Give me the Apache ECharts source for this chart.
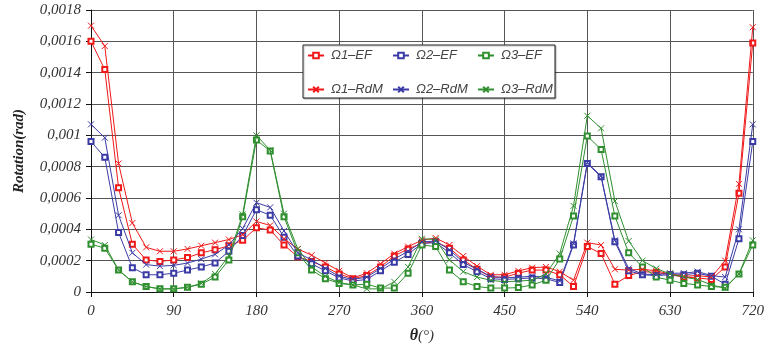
<!DOCTYPE html>
<html>
<head>
<meta charset="utf-8">
<script src="https://cdn.jsdelivr.net/npm/echarts@6/dist/echarts.min.js"></script>
<style>
  html, body { margin: 0; padding: 0; background: #fff; }
  #chart { width: 767px; height: 358px; }
</style>
</head>
<body>
<div id="chart"></div>
<script>
// angle theta in degrees
const angles = [0, 15, 30, 45, 60, 75, 90, 105, 120, 135, 150, 165, 180, 195, 210, 225, 240,
  255, 270, 285, 300, 315, 330, 345, 360, 375, 390, 405, 420, 435, 450, 465, 480, 495, 510,
  525, 540, 555, 570, 585, 600, 615, 630, 645, 660, 675, 690, 705, 720];

// rotations, in units of 1e-4 rad
const omega1EF = [16.0, 14.2, 6.65, 3.05, 2.05, 1.95, 2.05, 2.2, 2.5, 2.7, 2.95, 3.3, 4.1, 3.95, 3.0,
  2.25, 1.95, 1.6, 1.15, 0.85, 1.05, 1.6, 2.3, 2.75, 3.1, 3.2, 2.8, 2.05, 1.45, 0.95, 0.95, 1.2, 1.4,
  1.4, 1.1, 0.35, 2.9, 2.45, 0.5, 1.05, 1.3, 1.25, 1.1, 0.95, 0.9, 0.8, 1.6, 6.3, 15.9];
const omega2EF = [9.6, 8.6, 3.8, 1.55, 1.1, 1.1, 1.2, 1.4, 1.6, 1.85, 2.6, 3.6, 5.25, 4.9, 3.5, 2.3,
  1.8, 1.35, 0.9, 0.7, 0.8, 1.35, 1.9, 2.4, 3.1, 3.15, 2.5, 1.75, 1.3, 0.85, 0.8, 0.85, 0.9, 0.85,
  0.6, 3.0, 8.2, 7.35, 3.2, 1.35, 1.1, 1.05, 1.1, 1.1, 1.2, 1.0, 0.5, 3.4, 9.6];
const omega3EF = [3.05, 2.8, 1.4, 0.65, 0.35, 0.2, 0.2, 0.3, 0.5, 0.95, 2.05, 4.8, 9.7, 9.0, 4.8, 2.5,
  1.4, 0.85, 0.55, 0.45, 0.5, 0.25, 0.25, 1.2, 3.0, 2.9, 1.4, 0.65, 0.35, 0.25, 0.25, 0.28, 0.45,
  0.75, 2.1, 4.85, 9.95, 9.1, 4.85, 2.5, 1.6, 0.95, 0.75, 0.55, 0.45, 0.35, 0.3, 1.15, 3.0];
const omega1RdM = [17.0, 15.7, 8.2, 4.4, 2.85, 2.6, 2.6, 2.75, 2.95, 3.15, 3.35, 3.65, 4.5, 4.25, 3.4,
  2.75, 2.35, 1.85, 1.35, 0.9, 1.2, 1.8, 2.45, 2.9, 3.3, 3.45, 3.0, 2.3, 1.65, 1.1, 1.1, 1.35, 1.55,
  1.6, 1.3, 0.75, 3.15, 3.0, 1.45, 1.4, 1.45, 1.35, 1.15, 1.0, 1.05, 0.95, 2.0, 6.9, 16.9];
const omega2RdM = [10.7, 9.85, 4.9, 2.5, 1.75, 1.65, 1.7, 1.85, 2.1, 2.4, 3.0, 4.05, 5.7, 5.4, 3.9,
  2.5, 2.05, 1.5, 1.0, 0.8, 0.95, 1.5, 2.1, 2.6, 3.2, 3.25, 2.7, 1.9, 1.45, 1.0, 0.9, 0.95, 1.0,
  0.95, 0.7, 3.1, 8.25, 7.4, 3.3, 1.5, 1.15, 1.1, 1.2, 1.2, 1.3, 1.05, 0.95, 4.0, 10.7];
const omega3RdM = [3.35, 3.0, 1.4, 0.65, 0.35, 0.2, 0.2, 0.3, 0.55, 1.15, 2.3, 4.95, 10.0, 9.05, 5.0,
  2.75, 1.6, 1.0, 0.6, 0.45, 0.2, 0.2, 0.65, 1.6, 3.4, 3.35, 2.05, 1.3, 0.95, 0.75, 0.65, 0.7, 0.75,
  1.15, 2.45, 5.5, 11.25, 10.45, 5.8, 3.25, 2.0, 1.5, 1.15, 0.95, 0.8, 0.45, 0.25, 1.15, 3.3];

const seriesNames = ['Ω1–EF', 'Ω2–EF', 'Ω3–EF', 'Ω1–RdM', 'Ω2–RdM', 'Ω3–RdM'];
const xTicks = [0, 90, 180, 270, 360, 450, 540, 630, 720];

const UNIT = 1e-4;
const RED = '#f01818', BLUE = '#3b3ba6', GREEN = '#2f8f2f';
const CROSS = 'path://M0,0L10,10M10,0L0,10';
const serif = '"Liberation Serif", "Times New Roman", serif';
const sans = '"Liberation Sans", Arial, sans-serif';

const toPairs = (vals) => angles.map((a, i) => [a, vals[i] * UNIT]);

const makeSeries = (name, vals, color, isCross) => ({
  name,
  type: 'line',
  data: toPairs(vals),
  symbol: isCross ? CROSS : 'emptyRect',
  symbolSize: isCross ? 6 : 5,
  showAllSymbol: true,
  lineStyle: { color, width: 1 },
  itemStyle: { color, borderColor: color, borderWidth: 1 },
  emphasis: { disabled: true },
  z: isCross ? 3 : 2,
});

// one legend per entry so the columns line up like the original box
const legendLefts = [307, 392, 477];
const legendTops = [49, 83];
const legends = seriesNames.map((n, i) => ({
  data: [n],
  left: legendLefts[i % 3],
  top: legendTops[Math.floor(i / 3)],
  padding: 0,
  itemWidth: 16,
  itemHeight: 7,
  itemGap: 0,
  selectedMode: false,
  z: 10,
  textStyle: { fontFamily: sans, fontStyle: 'italic', fontSize: 13, color: '#444', padding: [0, 0, 0, 2] },
}));

const chart = echarts.init(document.getElementById('chart'));
chart.setOption({
  animation: false,
  backgroundColor: '#fff',
  grid: { left: 91, right: 10, top: 10, bottom: 66 },
  graphic: [{
    type: 'rect',
    z: 8,
    shape: { x: 303, y: 45, width: 252, height: 53 },
    style: { fill: '#fff', stroke: '#222', lineWidth: 1, shadowColor: 'rgba(0,0,0,0.25)', shadowOffsetX: 1, shadowOffsetY: 1, shadowBlur: 1 },
  }],
  legend: legends,
  xAxis: {
    type: 'value',
    min: 0,
    max: 720,
    interval: 90,
    name: '{b|θ}{n|(°)}',
    nameLocation: 'middle',
    nameGap: 36,
    nameTextStyle: {
      rich: {
        b: { fontFamily: serif, fontStyle: 'italic', fontWeight: 'bold', fontSize: 16, color: '#222' },
        n: { fontFamily: serif, fontStyle: 'italic', fontSize: 15, color: '#333' },
      },
    },
    axisLine: { lineStyle: { color: '#111', width: 1 } },
    axisTick: { length: 5, lineStyle: { color: '#111' } },
    splitLine: { show: true, lineStyle: { color: '#555', width: 1 } },
    axisLabel: {
      fontFamily: serif, fontStyle: 'italic', fontSize: 15, color: '#333', margin: 12,
      formatter: (v) => (xTicks.includes(v) ? String(v) : ''),
    },
  },
  yAxis: {
    type: 'value',
    min: 0,
    max: 0.0018,
    interval: 0.0002,
    name: 'Rotation(rad)',
    nameLocation: 'middle',
    nameGap: 64,
    nameTextStyle: { fontFamily: serif, fontStyle: 'italic', fontWeight: 'bold', fontSize: 15, color: '#222' },
    axisLine: { show: true, lineStyle: { color: '#111', width: 1 } },
    axisTick: { show: true, length: 5, lineStyle: { color: '#111' } },
    splitLine: { show: true, lineStyle: { color: '#555', width: 1 } },
    axisLabel: {
      fontFamily: serif, fontStyle: 'italic', fontSize: 15, color: '#333', margin: 10,
      formatter: (v) => (v === 0 ? '0' : String(+v.toFixed(4)).replace('.', ',')),
    },
  },
  series: [
    makeSeries(seriesNames[0], omega1EF, RED, false),
    makeSeries(seriesNames[1], omega2EF, BLUE, false),
    makeSeries(seriesNames[2], omega3EF, GREEN, false),
    makeSeries(seriesNames[3], omega1RdM, RED, true),
    makeSeries(seriesNames[4], omega2RdM, BLUE, true),
    makeSeries(seriesNames[5], omega3RdM, GREEN, true),
  ],
});
</script>
</body>
</html>
